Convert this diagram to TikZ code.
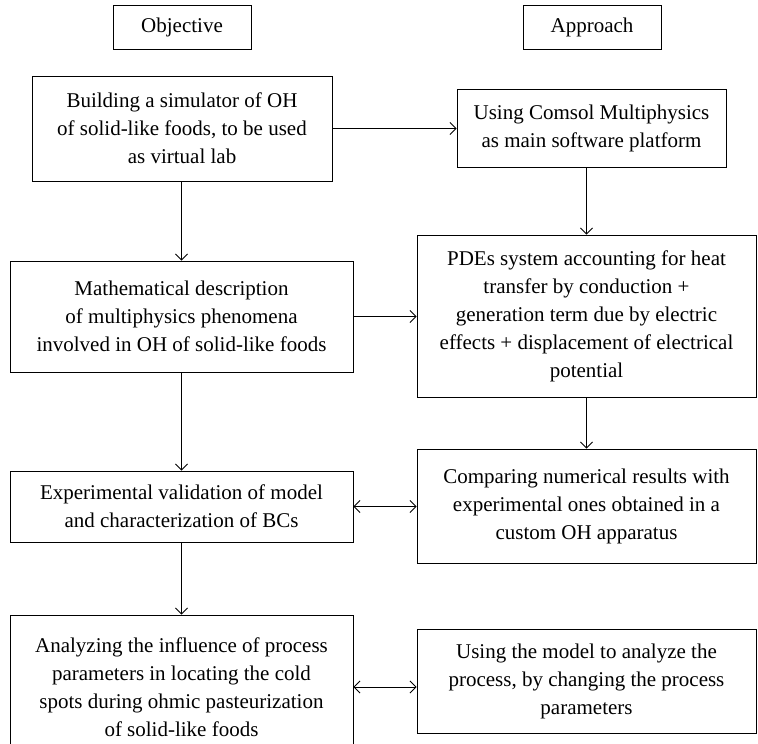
\documentclass[tikz,border=0pt]{standalone}
\usepackage{fontspec}
\setmainfont{Liberation Serif}
\usetikzlibrary{arrows.meta}
\tikzset{
	flowbox/.style={draw, line width=0.9pt, inner sep=0pt, align=center, font=\fontsize{21}{28}\selectfont},
	flowline/.style={line width=0.9pt}
}
\begin{document}
\begin{tikzpicture}[x=1pt, y=-1pt, line join=miter, >={Straight Barb[length=6pt,width=12pt]}]
			\clip (0,0) rectangle (758,744);
			% column heads
			\node[flowbox, minimum width=138pt, minimum height=44pt] (obj) at (182,27) {Objective};
			\node[flowbox, minimum width=138pt, minimum height=44pt] (app) at (592,27) {Approach};
			% objective column
			\node[flowbox, minimum width=300pt, minimum height=105pt] (build) at (182,128.5) {Building a simulator of OH\\of solid-like foods, to be used\\as virtual lab};
			\node[flowbox, minimum width=343pt, minimum height=111pt] (math) at (181.5,316.5) {Mathematical description\\of multiphysics phenomena\\involved in OH of solid-like foods};
			\node[flowbox, minimum width=343pt, minimum height=71pt] (exper) at (181.5,506.5) {Experimental validation of model\\and characterization of BCs};
			\node[flowbox, minimum width=343pt, minimum height=144pt] (analyze) at (181.5,687) {Analyzing the influence of process\\parameters in locating the cold\\spots during ohmic pasteurization\\of solid-like foods};
			% approach column
			\node[flowbox, minimum width=269pt, minimum height=78pt] (comsol) at (591.5,128) {Using Comsol Multiphysics\\as main software platform};
			\node[flowbox, minimum width=339pt, minimum height=162pt] (pdes) at (586.5,316) {PDEs system accounting for heat\\transfer by conduction +\\generation term due by electric\\effects + displacement of electrical\\potential};
			\node[flowbox, minimum width=339pt, minimum height=114pt] (compare) at (586.5,506) {Comparing numerical results with\\experimental ones obtained in a\\custom OH apparatus};
			\node[flowbox, minimum width=339pt, minimum height=104pt] (usemodel) at (586.5,681) {Using the model to analyze the\\process, by changing the process\\parameters};
			% connectors
			\draw[flowline, ->] (build) -- (build -| comsol.west);
			\draw[flowline, ->] (build.south -| math.north) -- (math.north);
			\draw[flowline, ->] (comsol.south -| pdes.north) -- (pdes.north);
			\draw[flowline, ->] (math.east) -- (math -| pdes.west);
			\draw[flowline, ->] (math.south) -- (exper.north);
			\draw[flowline, ->] (pdes.south) -- (compare.north);
			\draw[flowline, <->] (exper.east) -- (exper -| compare.west);
			\draw[flowline, ->] (exper.south) -- (analyze.north);
			\draw[flowline, <->] (analyze.east) -- (analyze -| usemodel.west);
		\end{tikzpicture}
\end{document}
